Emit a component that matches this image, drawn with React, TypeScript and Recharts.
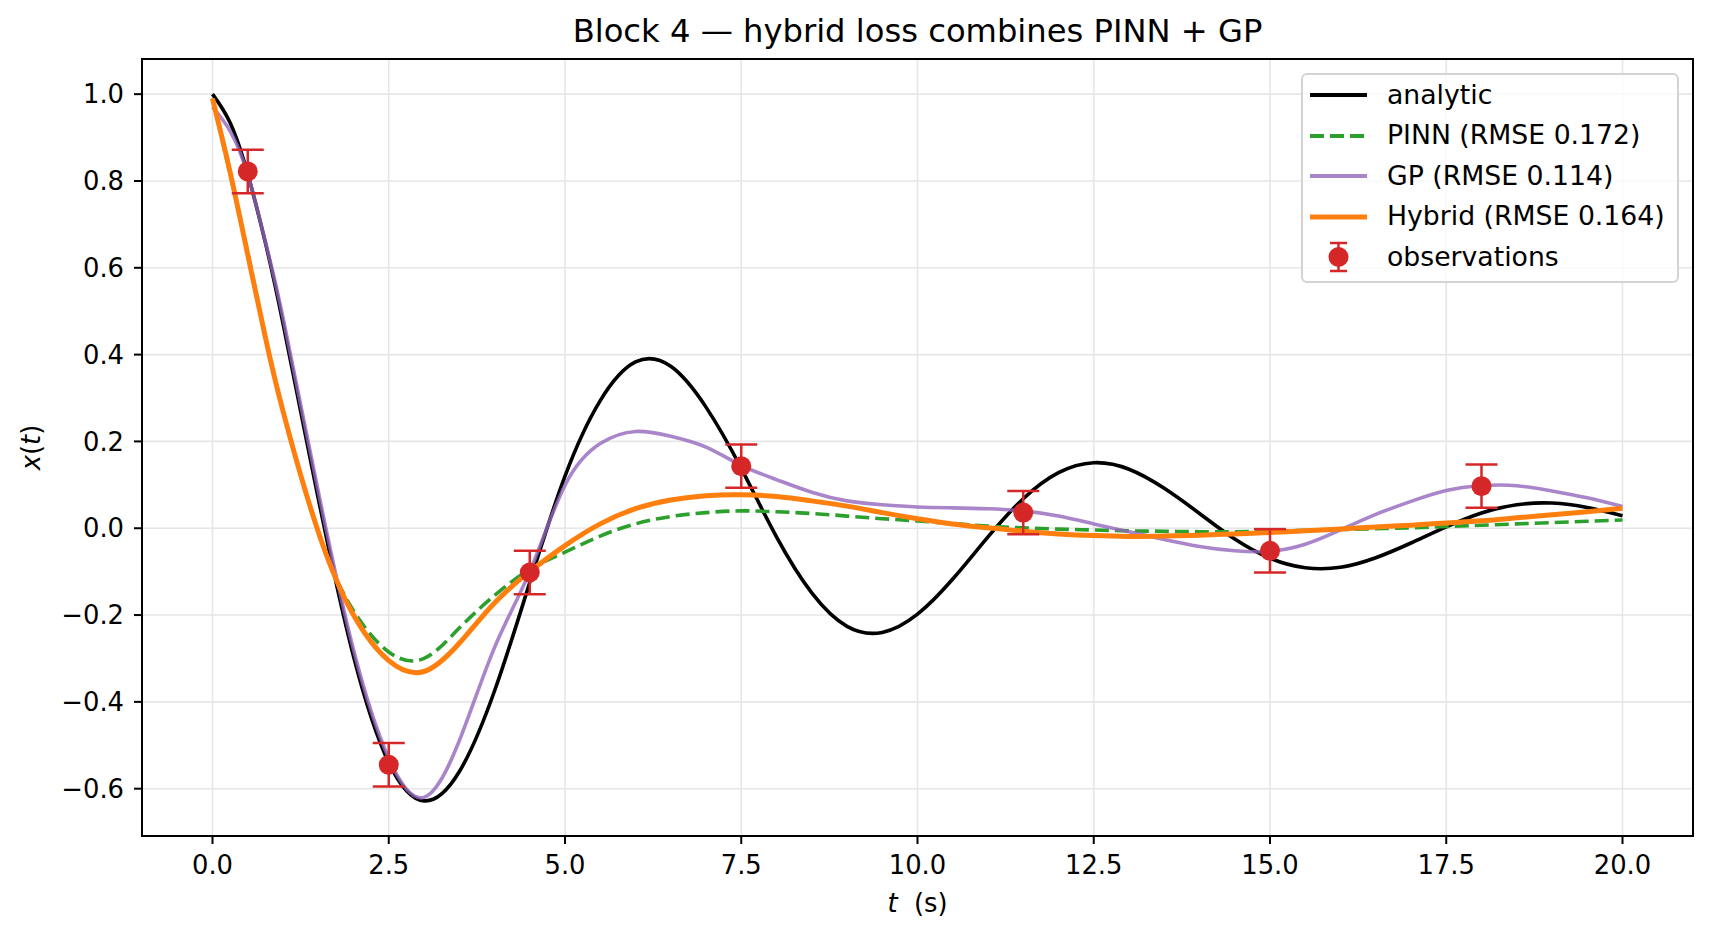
import {
  CartesianGrid,
  ComposedChart,
  ErrorBar,
  Legend,
  Line,
  ReferenceArea,
  Scatter,
  XAxis,
  YAxis,
} from "recharts";

const FONT = "'DejaVu Sans', sans-serif";

// time grid the curves were read at (s)
const tGrid = [
  0, 0.25, 0.5, 0.75, 1, 1.5, 2, 2.5, 3, 3.5, 4, 4.5, 5, 5.5, 6, 6.5, 7, 7.5, 8, 8.5, 9, 9.5, 10,
  10.5, 11, 11.5, 12, 12.5, 13, 13.5, 14, 14.5, 15, 15.5, 16, 16.5, 17, 17.5, 18, 18.5, 19, 19.5, 20,
];

const analytic = [
  1.0, 0.934, 0.816, 0.658, 0.472, 0.069, -0.295, -0.54, -0.628, -0.561, -0.375, -0.125, 0.12,
  0.294, 0.383, 0.373, 0.279, 0.138, -0.02, -0.149, -0.226, -0.24, -0.198, -0.117, -0.02, 0.068,
  0.128, 0.151, 0.136, 0.092, 0.034, -0.025, -0.069, -0.091, -0.09, -0.068, -0.034, 0.003, 0.035,
  0.054, 0.058, 0.048, 0.029,
];

const pinn = [
  0.99, 0.815, 0.635, 0.44, 0.27, -0.01, -0.19, -0.285, -0.3, -0.23, -0.155, -0.095, -0.055,
  -0.018, 0.01, 0.027, 0.036, 0.04, 0.038, 0.034, 0.028, 0.022, 0.017, 0.011, 0.005, 0.001, -0.002,
  -0.004, -0.006, -0.007, -0.008, -0.008, -0.007, -0.005, -0.003, -0.001, 0.001, 0.004, 0.007, 0.01,
  0.013, 0.016, 0.019,
];

const gp = [
  0.97, 0.915, 0.815, 0.66, 0.485, 0.085, -0.28, -0.53, -0.62, -0.49, -0.275, -0.1, 0.099, 0.195,
  0.223, 0.212, 0.187, 0.145, 0.112, 0.083, 0.063, 0.054, 0.049, 0.047, 0.045, 0.04, 0.028, 0.01,
  -0.008, -0.026, -0.042, -0.052, -0.053, -0.037, -0.004, 0.032, 0.062, 0.087, 0.098, 0.098, 0.086,
  0.07, 0.05,
];

const hybrid = [
  0.99, 0.82, 0.63, 0.44, 0.27, -0.008, -0.2, -0.305, -0.33, -0.265, -0.172, -0.1, -0.04, 0.01,
  0.045, 0.065, 0.075, 0.077, 0.073, 0.063, 0.051, 0.036, 0.022, 0.01, 0.001, -0.007, -0.013, -0.017,
  -0.019, -0.018, -0.016, -0.013, -0.01, -0.006, -0.002, 0.003, 0.007, 0.012, 0.017, 0.024, 0.031,
  0.038, 0.046,
];

// noisy observations with +/- error
const obsT = [0.5, 2.5, 4.5, 7.5, 11.5, 15, 18];
const obsX = [0.822, -0.545, -0.102, 0.143, 0.036, -0.052, 0.097];
const obsErr = [0.05, 0.05, 0.05, 0.05, 0.05, 0.05, 0.05];

const xTicks = [0, 2.5, 5, 7.5, 10, 12.5, 15, 17.5, 20];
const yTicks = [-0.6, -0.4, -0.2, 0, 0.2, 0.4, 0.6, 0.8, 1.0];
const X_DOMAIN = [-1, 21];
const Y_DOMAIN = [-0.709, 1.081];

const legendLabels = [
  "analytic",
  "PINN (RMSE 0.172)",
  "GP (RMSE 0.114)",
  "Hybrid (RMSE 0.164)",
  "observations",
];

const rows = tGrid.map((t, i) => ({
  t,
  analytic: analytic[i],
  pinn: pinn[i],
  gp: gp[i],
  hybrid: hybrid[i],
}));
const obsRows = obsT.map((t, i) => ({ t, x: obsX[i], err: obsErr[i] }));

const RED = "#d62728";
const tickStyle = { fill: "#000", fontSize: 25.8, fontFamily: FONT };
const fmtY = (v: number) => (v < 0 ? "\u2212" : "") + Math.abs(v).toFixed(1);

function XLabel({ viewBox }: any) {
  const { x, y, width } = viewBox;
  return (
    <text x={x + width / 2} y={y + 76} textAnchor="middle" fontSize={25.8} fontFamily={FONT} fill="#000">
      <tspan fontStyle="italic">t</tspan>
      {"\u00a0\u00a0(s)"}
    </text>
  );
}

function YLabel({ viewBox }: any) {
  const cx = 40;
  const cy = viewBox.y + viewBox.height / 2;
  return (
    <text
      x={cx}
      y={cy}
      transform={`rotate(-90, ${cx}, ${cy})`}
      textAnchor="middle"
      fontSize={25.8}
      fontFamily={FONT}
      fill="#000"
    >
      <tspan fontStyle="italic">x</tspan>(<tspan fontStyle="italic">t</tspan>)
    </text>
  );
}

function handle(i: number) {
  if (i === 4) {
    return (
      <g stroke={RED} strokeWidth={2.5}>
        <line x1={28.5} x2={28.5} y1={2} y2={30} />
        <line x1={20} x2={37} y1={2} y2={2} />
        <line x1={20} x2={37} y1={30} y2={30} />
        <circle cx={28.5} cy={16} r={10} fill={RED} stroke="none" />
      </g>
    );
  }
  const styles = [
    { stroke: "#000", w: 3.8 },
    { stroke: "#2ca02c", w: 3.8, dash: "14 6" },
    { stroke: "#9467bd", w: 3.8, op: 0.8 },
    { stroke: "#ff7f0e", w: 5.2 },
  ];
  const s = styles[i];
  return (
    <line
      x1={0}
      x2={57}
      y1={16}
      y2={16}
      stroke={s.stroke}
      strokeWidth={s.w}
      strokeDasharray={s.dash}
      strokeOpacity={s.op ?? 1}
    />
  );
}

function LegendBox() {
  return (
    <div
      style={{
        boxSizing: "border-box",
        width: 378,
        height: 210,
        border: "2px solid #d4d4d4",
        borderRadius: 6,
        background: "rgba(255,255,255,0.8)",
        fontFamily: FONT,
        fontSize: 26.7,
        color: "#000",
      }}
    >
      {legendLabels.map((label, i) => (
        <div key={label} style={{ display: "flex", alignItems: "center", height: 40.5 }}>
          <svg width={57} height={32} style={{ marginLeft: 7, flexShrink: 0 }}>
            {handle(i)}
          </svg>
          <span style={{ marginLeft: 20, lineHeight: 1, whiteSpace: "nowrap" }}>{label}</span>
        </div>
      ))}
    </div>
  );
}

export default function App() {
  return (
    <div style={{ position: "absolute", left: 0, top: 0, width: 1711, height: 939, background: "#fff" }}>
      <div
        style={{
          position: "absolute",
          left: 142,
          width: 1551,
          top: 14.5,
          textAlign: "center",
          fontFamily: FONT,
          fontSize: 32.2,
          lineHeight: "32.2px",
          color: "#000",
          whiteSpace: "nowrap",
        }}
      >
        Block 4 — hybrid loss combines PINN + GP
      </div>
      <ComposedChart
        width={1711}
        height={939}
        data={rows}
        margin={{ top: 59, right: 18, bottom: 43, left: 0 }}
      >
        <CartesianGrid stroke="#e6e6e6" strokeWidth={1.6} />
        <XAxis
          type="number"
          dataKey="t"
          domain={X_DOMAIN}
          ticks={xTicks}
          allowDataOverflow
          tickFormatter={(v: number) => v.toFixed(1)}
          height={60}
          tickSize={8}
          tickMargin={12}
          tick={tickStyle}
          tickLine={{ stroke: "#000", strokeWidth: 2 }}
          axisLine={{ stroke: "#000", strokeWidth: 2 }}
          label={<XLabel />}
        />
        <YAxis
          type="number"
          domain={Y_DOMAIN}
          ticks={yTicks}
          allowDataOverflow
          tickFormatter={fmtY}
          width={142}
          tickSize={8}
          tickMargin={10}
          tick={tickStyle}
          tickLine={{ stroke: "#000", strokeWidth: 2 }}
          axisLine={{ stroke: "#000", strokeWidth: 2 }}
          label={<YLabel />}
        />
        <Line
          type="natural"
          dataKey="analytic"
          stroke="#000"
          strokeWidth={3.6}
          dot={false}
          activeDot={false}
          isAnimationActive={false}
        />
        <Line
          type="natural"
          dataKey="pinn"
          stroke="#2ca02c"
          strokeWidth={3.6}
          strokeDasharray="14 6"
          dot={false}
          activeDot={false}
          isAnimationActive={false}
        />
        <Line
          type="natural"
          dataKey="gp"
          stroke="#9467bd"
          strokeOpacity={0.8}
          strokeWidth={3.6}
          dot={false}
          activeDot={false}
          isAnimationActive={false}
        />
        <Line
          type="natural"
          dataKey="hybrid"
          stroke="#ff7f0e"
          strokeWidth={5}
          dot={false}
          activeDot={false}
          isAnimationActive={false}
        />
        <Scatter
          data={obsRows}
          dataKey="x"
          fill={RED}
          isAnimationActive={false}
          shape={(p: any) => <circle cx={p.cx} cy={p.cy} r={10} fill={RED} />}
        >
          <ErrorBar dataKey="err" direction="y" width={16} strokeWidth={2.5} stroke={RED} />
        </Scatter>
        <ReferenceArea
          x1={X_DOMAIN[0]}
          x2={X_DOMAIN[1]}
          y1={Y_DOMAIN[0]}
          y2={Y_DOMAIN[1]}
          fill="none"
          stroke="#000"
          strokeWidth={2}
          ifOverflow="visible"
        />
        <Legend
          layout="vertical"
          align="center"
          verticalAlign="middle"
          content={() => <LegendBox />}
          wrapperStyle={{ left: 1301, top: 73, width: 378, height: 210 }}
        />
      </ComposedChart>
    </div>
  );
}
